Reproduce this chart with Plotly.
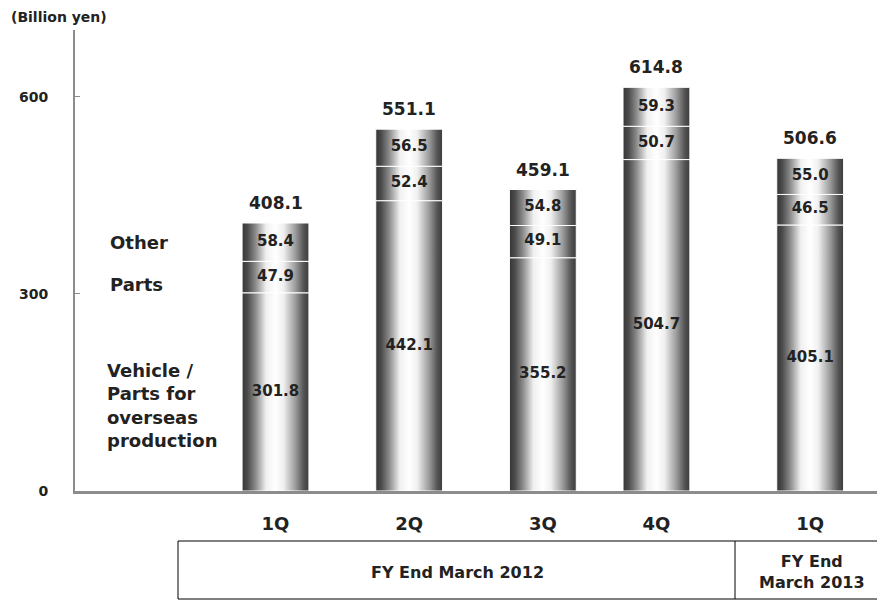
import plotly.graph_objects as go

# ---- data ----
quarters = ["1Q", "2Q", "3Q", "4Q", "1Q"]
vehicle = [301.8, 442.1, 355.2, 504.7, 405.1]
parts = [47.9, 52.4, 49.1, 50.7, 46.5]
other = [58.4, 56.5, 54.8, 59.3, 55.0]
totals = [408.1, 551.1, 459.1, 614.8, 506.6]
segment_names = ["Vehicle / Parts for overseas production", "Parts", "Other"]
fy_labels = ["FY End March 2012", "FY End<br>March 2013"]
y_ticks = [0, 300, 600]

# ---- layout constants ----
xpos = [1.5, 2.5, 3.5, 4.35, 5.5]
bar_w = 0.5
X_RANGE = [0, 6]
Y_RANGE = [0, 702]
FONT = "DejaVu Sans, Arial, sans-serif"
TXT = "#222222"
grad = [[0.0, "#363636"], [0.08, "#4a4a4a"], [0.2, "#8a8a8a"], [0.36, "#f0f0f0"],
        [0.5, "#ffffff"], [0.62, "#f0f0f0"], [0.8, "#9a9a9a"], [0.92, "#555555"],
        [1.0, "#3c3c3c"]]

fig = go.Figure()

series = [vehicle, parts, other]
for i, xc in enumerate(xpos):
    base = 0.0
    for s, vals in enumerate(series):
        top = base + vals[i]
        x0, x1 = xc - bar_w / 2, xc + bar_w / 2
        fig.add_trace(go.Scatter(
            x=[x0, x1, x1, x0, x0], y=[base, base, top, top, base],
            mode="lines", fill="toself",
            fillgradient=dict(type="horizontal", colorscale=grad),
            line=dict(color="#ffffff", width=1),
            hoverinfo="skip", showlegend=False, name=segment_names[s]))
        fig.add_trace(go.Scatter(
            x=[xc], y=[(base + top) / 2], mode="text",
            text=[f"{vals[i]:.1f}"],
            textfont=dict(family=FONT, size=15, color=TXT, weight="bold"),
            hoverinfo="skip", showlegend=False))
        base = top

annotations = []
for xc, t in zip(xpos, totals):
    annotations.append(dict(x=xc, y=t, xref="x", yref="y", text=f"<b>{t:.1f}</b>",
                            showarrow=False, yanchor="bottom", xanchor="center", yshift=8,
                            font=dict(family=FONT, size=17, color=TXT)))


def px2paper_x(px):
    return (px - 75) / 802.0


def py2paper_y(py):
    return (491 - py) / 461.0


def note(px, py, text, size, xanchor="left", align="left"):
    return dict(x=px2paper_x(px), y=py2paper_y(py), xref="paper", yref="paper",
                text=f"<b>{text}</b>", showarrow=False, xanchor=xanchor, yanchor="middle",
                align=align, font=dict(family=FONT, size=size, color=TXT))


# left legend labels
annotations.append(note(108, 242, "Other", 18))
annotations.append(note(108, 284, "Parts", 18))
annotations.append(note(105, 405, "Vehicle /<br>Parts for<br>overseas<br>production", 18))
annotations.append(note(9, 17, "(Billion yen)", 14))
# FY table labels
annotations.append(note(457, 572, fy_labels[0], 16, xanchor="center", align="center"))
annotations.append(note(812, 572, fy_labels[1], 16, xanchor="center", align="center"))

shapes = [
    dict(type="rect", xref="paper", yref="paper", x0=px2paper_x(178), x1=px2paper_x(880),
         y0=py2paper_y(599), y1=py2paper_y(541), line=dict(color="#000000", width=1)),
    dict(type="line", xref="paper", yref="paper", x0=px2paper_x(735), x1=px2paper_x(735),
         y0=py2paper_y(599), y1=py2paper_y(541), line=dict(color="#000000", width=1)),
]

fig.update_layout(
    width=877, height=600,
    margin=dict(l=75, r=0, t=30, b=109),
    plot_bgcolor="white", paper_bgcolor="white",
    showlegend=False,
    annotations=annotations, shapes=shapes,
    xaxis=dict(range=X_RANGE, tickvals=xpos, ticktext=[f"<b>{q}</b>" for q in quarters],
               showgrid=False, zeroline=False, showline=True, linecolor="#8c8c8c",
               linewidth=3, ticks="", ticklabelstandoff=14,
               tickfont=dict(family=FONT, size=18, color=TXT)),
    yaxis=dict(range=Y_RANGE, tickvals=y_ticks, ticktext=[f"<b>{v}</b>" for v in y_ticks],
               showgrid=False, zeroline=False, showline=True, linecolor="#8c8c8c",
               linewidth=2, ticks="inside", ticklen=5, tickcolor="#8c8c8c",
               ticklabelstandoff=22,
               tickfont=dict(family=FONT, size=14, color=TXT)),
)

fig.write_html("out.html")
